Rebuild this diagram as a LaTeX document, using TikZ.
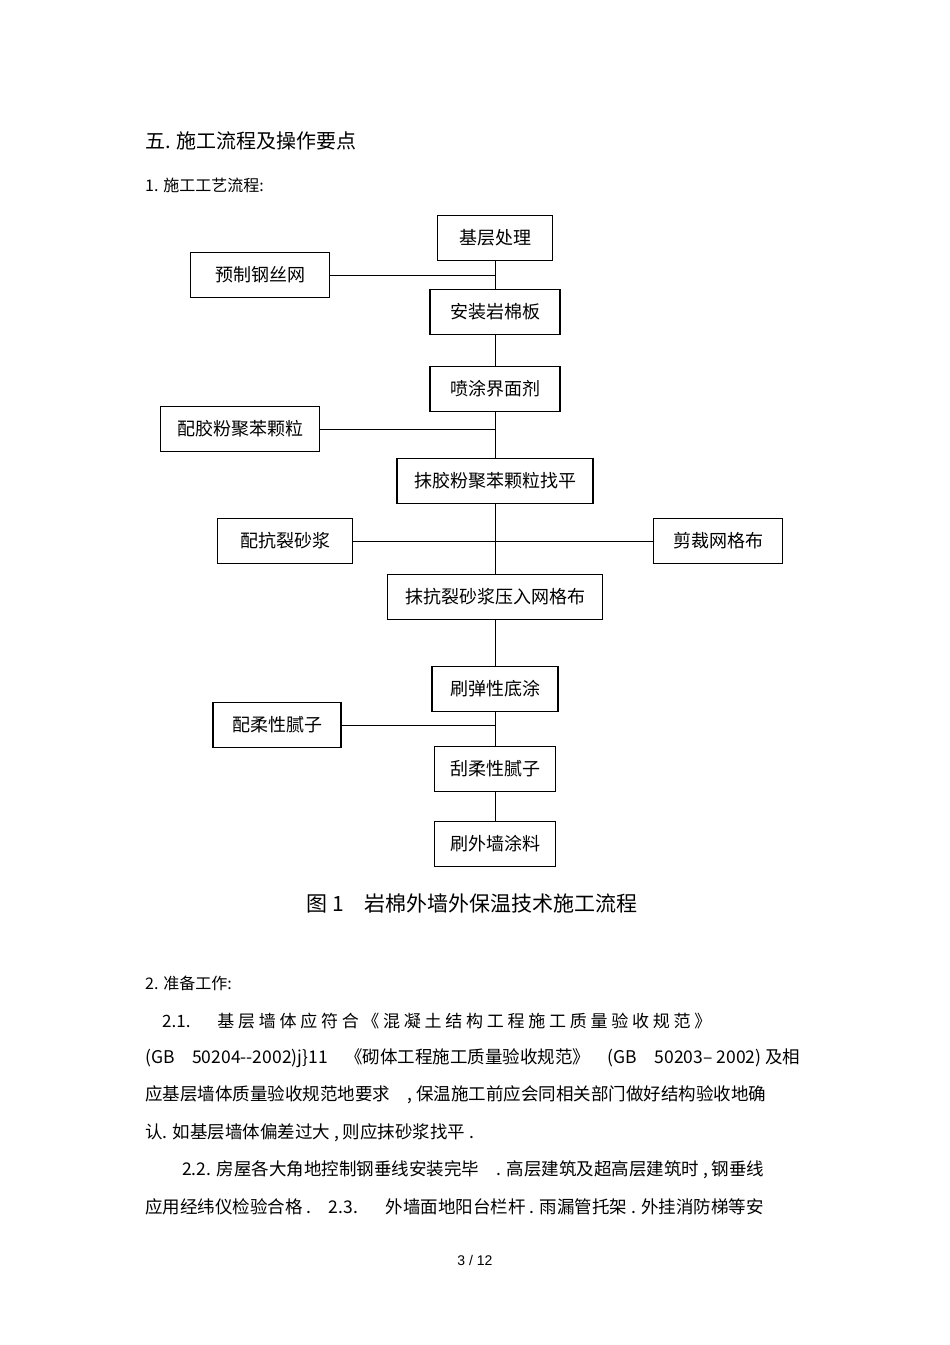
\documentclass[tikz,border=0pt]{standalone}
\usepackage{fontspec}
\setmainfont{Liberation Sans}
\newfontfamily\cjk{Noto Sans CJK SC}
\begin{document}
\begin{tikzpicture}[x=1pt,y=-1pt,
  bx/.style={draw,line width=1.6pt,minimum height=45pt,font=\cjk\fontsize{18}{20}\selectfont,inner sep=2pt},
  ln/.style={line width=0.9pt},
  tx/.style={anchor=west,inner sep=0pt,font=\cjk\fontsize{17.5}{19}\selectfont}]
\useasboundingbox (0,0) rectangle (950,1345);
\node[tx,font=\cjk\fontsize{20}{22}\selectfont] (h) at (145,141) {五. 施工流程及操作要点};
\node[tx,font=\cjk\fontsize{16}{18}\selectfont] (h1) at (145,185) {1. 施工工艺流程:};
\node[bx,minimum width=115pt] (a) at (495,238) {基层处理};
\node[bx,minimum width=139pt] (p1) at (260,275) {预制钢丝网};
\node[bx,minimum width=130pt] (b) at (495,312) {安装岩棉板};
\node[bx,minimum width=130pt] (c) at (495,389) {喷涂界面剂};
\node[bx,minimum width=159pt] (p2) at (240,429) {配胶粉聚苯颗粒};
\node[bx,minimum width=196pt] (d) at (495,481) {抹胶粉聚苯颗粒找平};
\node[bx,minimum width=135pt] (p3) at (285,541) {配抗裂砂浆};
\node[bx,minimum width=129pt] (p4) at (718,541) {剪裁网格布};
\node[bx,minimum width=215pt] (e) at (495,597) {抹抗裂砂浆压入网格布};
\node[bx,minimum width=126pt] (f) at (495,689) {刷弹性底涂};
\node[bx,minimum width=128pt] (p5) at (277,725) {配柔性腻子};
\node[bx,minimum width=121pt] (g) at (495,769) {刮柔性腻子};
\node[bx,minimum width=121pt] (k) at (495,844) {刷外墙涂料};
\draw[ln] (a.south) -- (b.north);
\draw[ln] (b.south) -- (c.north);
\draw[ln] (c.south) -- (d.north);
\draw[ln] (d.south) -- (e.north);
\draw[ln] (e.south) -- (f.north);
\draw[ln] (f.south) -- (g.north);
\draw[ln] (g.south) -- (k.north);
\draw[ln] (p1.east) -- (p1.east -| a.south);
\draw[ln] (p2.east) -- (p2.east -| d.north);
\draw[ln] (p3.east) -- (p4.west);
\draw[ln] (p5.east) -- (p5.east -| g.north);
\node[anchor=center,inner sep=0pt,font=\cjk\fontsize{21}{23}\selectfont] (cap) at (472,904) {图 1\quad 岩棉外墙外保温技术施工流程};
\node[tx,font=\cjk\fontsize{16}{18}\selectfont] (h2) at (145,983) {2. 准备工作:};
\node[tx,font=\cjk\fontsize{17}{19}\selectfont] (l1) at (162,1021) {2.1.\quad\; \addfontfeature{LetterSpace=22}基层墙体应符合《混凝土结构工程施工质量验收规范》};
\node[tx] (l2) at (145,1058) {(GB\quad 50204--2002)j\}11\quad 《砌体工程施工质量验收规范》\quad (GB\quad 50203– 2002) 及相};
\node[tx] (l3) at (145,1095) {应基层墙体质量验收规范地要求\quad , 保温施工前应会同相关部门做好结构验收地确};
\node[tx] (l4) at (145,1133) {认. 如基层墙体偏差过大\ , 则应抹砂浆找平\ .};
\node[tx] (l5) at (182,1170) {2.2. 房屋各大角地控制钢垂线安装完毕\quad . 高层建筑及超高层建筑时\ , 钢垂线};
\node[tx] (l6) at (145,1207) {应用经纬仪检验合格\ .\quad 2.3.\quad\; 外墙面地阳台栏杆\ . 雨漏管托架 . 外挂消防梯等安};
\node[anchor=center,inner sep=0pt,font=\fontsize{14}{16}\selectfont] (pg) at (475,1260) {3 / 12};
\end{tikzpicture}
\end{document}
